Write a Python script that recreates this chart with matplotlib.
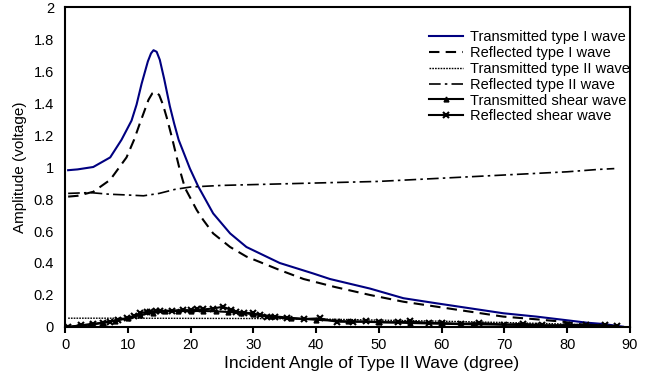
import matplotlib
matplotlib.use("Agg")
import matplotlib.pyplot as plt

plt.rcParams['font.family'] = ['Liberation Sans', 'DejaVu Sans']

# Transmitted type I wave
t1_x = [0.5, 2, 4.5, 7.2, 9.0, 10.6, 11.4, 12.2, 13.2, 13.7, 14.1, 14.6, 15.1, 15.8, 16.7,
        17.4, 18.1, 18.7, 19.9, 21.2, 23.6, 26.3, 28.9, 34.2, 39.5, 42.2, 48.6, 53.9, 59.2,
        64.5, 69.8, 75.1, 80.4, 83.1, 85.7, 88.9]
t1_y = [0.98, 0.985, 1.0, 1.06, 1.17, 1.29, 1.39, 1.52, 1.66, 1.71, 1.73, 1.72, 1.67, 1.55, 1.38,
        1.27, 1.17, 1.11, 0.99, 0.88, 0.71, 0.585, 0.50, 0.40, 0.335, 0.30, 0.24, 0.18, 0.148,
        0.117, 0.086, 0.065, 0.04, 0.027, 0.019, 0.002]

# Reflected type I wave
r1_x = [0.5, 2, 4.5, 7.2, 9.8, 11.0, 11.9, 13.3, 13.9, 14.4, 15.0, 15.6, 16.2, 17.0, 17.8, 18.3,
        19.1, 21.0, 22.0, 23.6, 26.3, 28.9, 34.2, 38.0, 43.0, 48.6, 53.9, 59.2, 64.5, 69.8,
        75.1, 79.3, 83.0, 86.0]
r1_y = [0.815, 0.82, 0.845, 0.92, 1.06, 1.17, 1.27, 1.42, 1.46, 1.47, 1.45, 1.39, 1.31, 1.19, 1.06,
        0.98, 0.87, 0.73, 0.67, 0.585, 0.50, 0.44, 0.356, 0.30, 0.25, 0.20, 0.158, 0.127, 0.096,
        0.065, 0.048, 0.033, 0.012, 0.003]

# Transmitted type II wave
t2_x = [0.5, 10, 20, 30, 40, 50, 60, 70, 80, 88]
t2_y = [0.055, 0.055, 0.054, 0.053, 0.05, 0.043, 0.036, 0.028, 0.018, 0.005]

# Reflected type II wave
r2_x = [0.5, 4, 7, 10, 12.5, 15, 17.5, 20, 25, 30, 35, 40, 45, 50, 55, 60, 65, 70, 75, 80, 85, 87.5]
r2_y = [0.835, 0.84, 0.83, 0.825, 0.82, 0.835, 0.86, 0.875, 0.885, 0.89, 0.895, 0.90, 0.905,
        0.91, 0.92, 0.93, 0.94, 0.95, 0.96, 0.97, 0.985, 0.99]

# Transmitted shear wave
ts_x = [0.5, 2, 4, 6, 8, 10, 12, 14, 16, 18, 20, 22, 24, 26, 28, 30, 33, 36, 40, 45, 50,
        55, 60, 65, 70, 75, 80, 85, 88]
ts_y = [0.0, 0.008, 0.017, 0.027, 0.04, 0.055, 0.075, 0.09, 0.098, 0.10, 0.10, 0.10, 0.098,
        0.094, 0.088, 0.08, 0.068, 0.057, 0.045, 0.035, 0.03, 0.025, 0.02, 0.017, 0.014,
        0.011, 0.008, 0.005, 0.002]

# Reflected shear wave
rs_x = [0.5, 2.5, 4.5, 6, 7.2, 8.5, 9.8, 11, 11.9, 13, 13.5, 14.5, 15.1, 17, 18.8, 20, 21, 22,
        23.5, 25.2, 26.5, 27.3, 28.5, 30, 31, 32.1, 33.5, 35.3, 38, 40.6, 43.3, 45.9, 48, 50,
        53, 55, 58, 60, 63, 66, 70, 73, 76, 80, 83, 86, 88]
rs_y = [0.0, 0.01, 0.017, 0.025, 0.033, 0.045, 0.054, 0.07, 0.085, 0.095, 0.096, 0.1, 0.1,
        0.103, 0.106, 0.105, 0.11, 0.11, 0.115, 0.127, 0.105, 0.096, 0.09, 0.085, 0.075, 0.065,
        0.06, 0.054, 0.05, 0.054, 0.033, 0.033, 0.035, 0.03, 0.03, 0.035, 0.025, 0.025, 0.02,
        0.025, 0.015, 0.02, 0.01, 0.012, 0.015, 0.01, 0.005]

labels = ["Transmitted type I wave", "Reflected type I wave", "Transmitted type II wave",
          "Reflected type II wave", "Transmitted shear wave", "Reflected shear wave"]

fig = plt.figure(figsize=(6.58, 3.83), dpi=100)
ax = fig.add_axes([65/658, 1-327/383, (630-65)/658, (327-7)/383])

ax.plot(t1_x, t1_y, color="#000080", lw=1.5, label=labels[0])
ax.plot(r1_x, r1_y, color="black", lw=1.5, dashes=(5, 3), label=labels[1])
ax.plot(t2_x, t2_y, color="black", lw=1.0, dashes=(1.2, 0.8), label=labels[2])
ax.plot(r2_x, r2_y, color="black", lw=1.2, dashes=(7, 2.5, 1.5, 2.5), label=labels[3])
ax.plot(ts_x, ts_y, color="black", lw=1.5, marker="^", ms=3.5, label=labels[4])
ax.plot(rs_x, rs_y, color="black", lw=1.5, marker="x", ms=4, mew=1.5, label=labels[5])

ax.set_xlim(0, 90)
ax.set_ylim(0, 2)
ax.set_xticks(range(0, 91, 10))
ax.set_yticks([0, 0.2, 0.4, 0.6, 0.8, 1, 1.2, 1.4, 1.6, 1.8, 2])
ax.set_yticklabels(["0", "0.2", "0.4", "0.6", "0.8", "1", "1.2", "1.4", "1.6", "1.8", "2"])
ax.tick_params(axis="x", direction="out", length=4, width=1.5, labelsize=10.5, pad=4)
ax.tick_params(axis="y", length=0, labelsize=10.5, pad=8)
for s in ax.spines.values():
    s.set_linewidth(1.5)
    s.set_color("black")

ax.set_xlabel("Incident Angle of Type II Wave (dgree)", fontsize=12.5, labelpad=5)
ax.xaxis.set_label_coords((372-65)/(630-65), -0.09)
ax.xaxis.label.set_verticalalignment("top")
ax.set_ylabel("Amplitude (voltage)", fontsize=11, labelpad=5)

leg = ax.legend(loc="upper right", bbox_to_anchor=(630/658, 1-30/383),
                bbox_transform=fig.transFigure, frameon=False, fontsize=10.5,
                handlelength=2.3, handletextpad=0.5, labelspacing=0.13,
                borderaxespad=0, borderpad=0)

fig.savefig("out.png", dpi=100)
